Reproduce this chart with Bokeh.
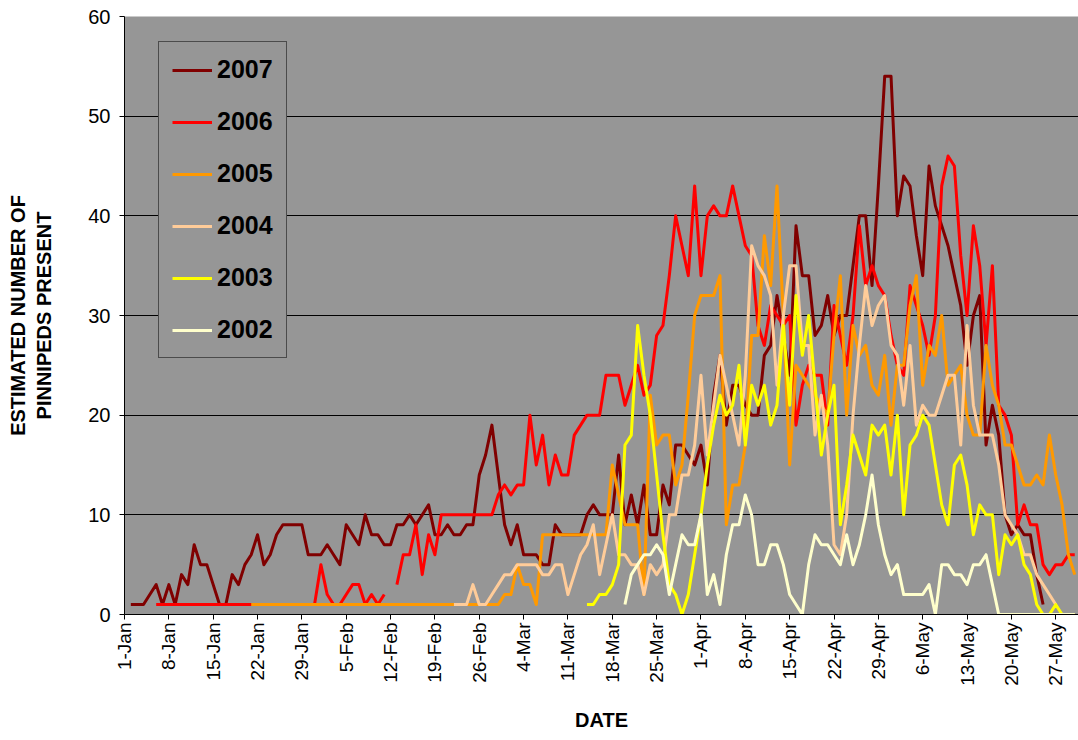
import math
import numpy as np
from bokeh.plotting import figure
from bokeh.models import Range1d, FixedTicker, Legend, LegendItem
from bokeh.embed import file_html
from bokeh.resources import INLINE

# ---------------- data ----------------
series_names = ["2007", "2006", "2005", "2004", "2003", "2002"]
series_colors = ["#800000", "#FF0000", "#FF9900", "#FFCC99", "#FFFF00", "#FFFFCC"]
# day of the first count, counted from 1-Jan (0 = 1-Jan)
first_day = [1, 5, 20, 52, 73, 79]

NA = float("nan")

s2007 = [1, 1, 1, 2, 3, 1, 3, 1, 4, 3,
         7, 5, 5, 3, 1, 1, 4, 3, 5, 6,
         8, 5, 6, 8, 9, 9, 9, 9, 6, 6,
         6, 7, 6, 5, 9, 8, 7, 10, 8, 8,
         7, 7, 9, 9, 10, 9, 10, 11, 8, 8,
         9, 8, 8, 9, 9, 14, 16, 19, 14, 9,
         7, 9, 6, 6, 6, 5, 5, 9, 8, 8,
         8, 8, 10, 11, 10, 10, 10, 16, 9, 12,
         9, 13, 8, 8, 13, 11, 17, 17, 16, 15,
         17, 13, 22, 26, 19, 23, 23, 21, 20, 20,
         26, 27, 32, 28, 24, 39, 34, 34, 28, 29,
         32, 28, 30, 30, 35, 40, 40, 33, 43, 54,
         54, 40, 44, 43, 38, 34, 45, 41, 39, 37,
         34, 31, 25, 30, 32, 17, 21, 18, 10, 8,
         9, 8, 8, 4, 1]

s2006 = [1] * 25 + [
         1, 5, 2, 1, 1, 2, 3, 3, 1, 2,
         1, 2, NA, 3, 6, 6, 9, 4, 8, 6,
         10, 10, 10, 10, 10, 10, 10, 10, 10, 12,
         13, 12, 13, 13, 20, 15, 18, 13, 16, 14,
         14, 18, 19, 20, 20, 20, 24, 24, 24, 21,
         23, 25, 22, 23, 28, 29, 34, 40, 37, 34,
         43, 34, 40, 41, 40, 40, 43, 40, 37, 36,
         29, 27, 31, 30, 29, 30, 19, 23, 25, 24,
         24, 19, 31, 28, 25, 30, 39, 33, 35, 33,
         32, 28, 25, 24, 33, 31, 29, 26, 30, 43,
         46, 45, 36, 30, 39, 35, 27, 35, 21, 20,
         18, 9, 11, 9, 9, 5, 4, 5, 5, 6, 6]

s2005 = [1] * 40 + [
         2, 2, 5, 3, 3, 1, 8, 8, 8, 8,
         8, 8, 8, 8, 8, 8, 8, 15, 12, 9,
         9, 9, 2, 22, 17, 18, 18, 13, 15, 22,
         30, 32, 32, 32, 34, 9, 13, 13, 17, 28,
         28, 38, 33, 43, 30, 15, 25, 24, 23, 22,
         21, 20, 28, 34, 20, 29, 26, 27, 23, 22,
         26, 19, 25, 25, 31, 34, 23, 27, 26, 30,
         23, 24, 25, 20, 18, 18, 27, 23, 21, 17,
         17, 15, 13, 13, 14, 13, 18, 14, 11, 6, 4]

s2004 = [1, 1, 1, 3, 1, 1, 2, 3, 4, 4,
         5, 5, 5, 5, 4, 4, 5, 5, 2, 4,
         6, 7, 9, 4, 7, 10, 6, 6, 5, 5,
         2, 5, 4, 5, 10, 10, 14, 14, 17, 24,
         16, 21, 26, 23, 20, 17, 24, 37, 35, 34,
         32, 23, 30, 35, 35, 27, 27, 18, 22, 17,
         7, 6, 10, 20, 27, 33, 29, 31, 32, 27,
         26, 21, 27, 19, 21, 20, 20, 22, 24, 24,
         17, 29, 21, 18, 18, 18, 15, 10, 9, 8,
         6, 6, 4, 3, 2, 1]

s2003 = [1, 1, 2, 2, 3, 5, 17, 18, 29, 24,
         20, 14, 8, 3, 2, 0, 2, 6, 10, 15,
         19, 22, 20, 21, 25, 17, 23, 21, 23, 19,
         21, 29, 21, 32, 26, 30, 23, 16, 20, 23,
         9, 13, 18, 16, 14, 19, 18, 19, 14, 20,
         10, 17, 18, 20, 19, 15, 11, 9, 15, 16,
         13, 8, 11, 10, 10, 4, 8, 7, 8, 5,
         4, 1, 0, 0, 1, 0, 0, 0]

s2002 = [1, 4, 5, 6, 6, 7, 6, 2, 5, 8,
         7, 7, 10, 2, 4, 1, 6, 9, 9, 12,
         10, 5, 5, 7, 7, 5, 2, 1, 0, 5,
         8, 7, 7, 6, 5, 8, 5, 7, 10, 14,
         9, 6, 4, 5, 2, 2, 2, 2, 3, 0,
         5, 5, 4, 4, 3, 5, 5, 6, 3, 0,
         0, 0, 0, 0, 0, 0, 0, 0, 0, 0, 0, 0]

series_values = [s2007, s2006, s2005, s2004, s2003, s2002]

tick_days = [0, 7, 14, 21, 28, 35, 42, 49, 56, 63, 70,
             77, 84, 91, 98, 105, 112, 119, 126, 133, 140, 147]
tick_labels = ["1-Jan", "8-Jan", "15-Jan", "22-Jan", "29-Jan", "5-Feb", "12-Feb",
               "19-Feb", "26-Feb", "4-Mar", "11-Mar", "18-Mar", "25-Mar", "1-Apr",
               "8-Apr", "15-Apr", "22-Apr", "29-Apr", "6-May", "13-May", "20-May",
               "27-May"]
y_ticks = [0, 10, 20, 30, 40, 50, 60]

# ---------------- figure ----------------
FONT = "Liberation Sans"
W, H = 1078, 738
B_LEFT, B_RIGHT, B_TOP, B_BOTTOM = 124, 0, 16, 124
PX_PER_DAY = 6.335
frame_w = W - B_LEFT - B_RIGHT

p = figure(width=W, height=H,
           x_range=Range1d(0, frame_w / PX_PER_DAY), y_range=Range1d(0, 60),
           output_backend="svg", toolbar_location=None,
           min_border_left=B_LEFT, min_border_right=B_RIGHT, min_border_top=B_TOP,
           min_border_bottom=B_BOTTOM,
           background_fill_color="#969696", border_fill_color="white",
           outline_line_color=None)

renderers = []
for name, col, start, vals in zip(series_names, series_colors, first_day, series_values):
    xs = [start + i for i in range(len(vals))]
    r = p.line(xs, vals, line_color=col, line_width=3, line_join="round")
    renderers.append(r)

# axes
p.xaxis.ticker = FixedTicker(ticks=tick_days)
p.xaxis.major_label_overrides = {d: l for d, l in zip(tick_days, tick_labels)}
p.xaxis.major_label_orientation = math.pi / 2
p.yaxis.ticker = FixedTicker(ticks=y_ticks)

for ax in (p.xaxis[0], p.yaxis[0]):
    ax.axis_line_color = "black"
    ax.axis_line_width = 1
    ax.major_tick_line_color = "black"
    ax.major_tick_out = 5
    ax.major_tick_in = 0
    ax.minor_tick_line_color = None
    ax.major_label_text_font = FONT
    ax.major_label_text_color = "black"
    ax.axis_label_text_font = FONT
    ax.axis_label_text_font_style = "bold"
    ax.axis_label_text_color = "black"
    ax.axis_label_text_font_size = "20px"

p.xaxis.major_label_text_font_size = "19px"
p.yaxis.major_label_text_font_size = "20px"
p.xaxis.major_label_standoff = 3
p.yaxis.major_label_standoff = 9
p.xaxis.axis_label = "DATE"
p.xaxis.axis_label_standoff = 20
p.yaxis.axis_label = "ESTIMATED NUMBER OF\nPINNIPEDS PRESENT"
p.yaxis.axis_label_standoff = 30

p.xgrid.visible = False
p.ygrid.ticker = FixedTicker(ticks=y_ticks)
p.ygrid.grid_line_color = "black"
p.ygrid.grid_line_width = 1

legend = Legend(items=[LegendItem(label=n, renderers=[r]) for n, r in zip(series_names, renderers)],
                location=(34, 256), orientation="vertical",
                background_fill_color="#969696", background_fill_alpha=1.0,
                border_line_color="black", border_line_width=1,
                label_text_font=FONT, label_text_font_style="bold",
                label_text_font_size="25px", label_text_color="black",
                glyph_width=40, glyph_height=26, label_height=26,
                label_standoff=5, spacing=23, padding=13, margin=0)
p.add_layout(legend)

open("out.html", "w").write(file_html(p, INLINE))
